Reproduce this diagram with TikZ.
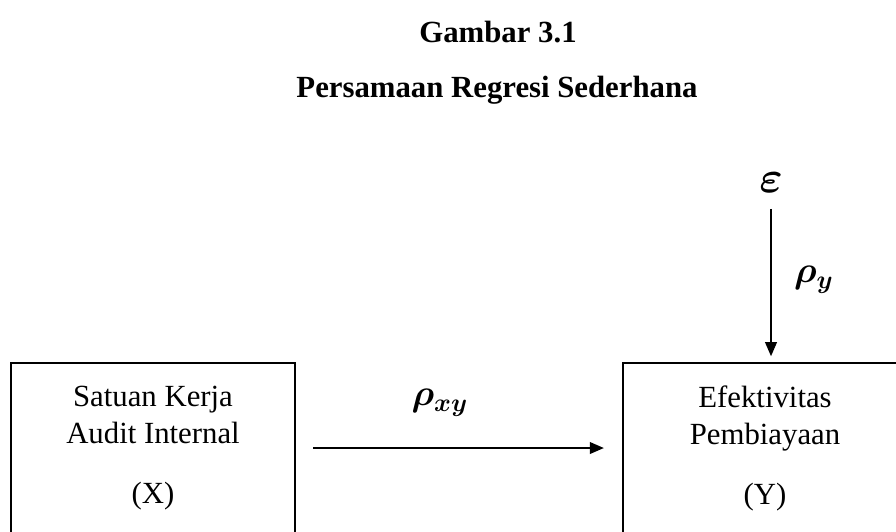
\documentclass[tikz,border=0pt]{standalone}
\usepackage{amsmath,amssymb}
\usepackage{fontspec}
\setmainfont{Liberation Serif}
\usepackage{tikz}
\usetikzlibrary{positioning,arrows.meta}

\begin{document}
\begin{tikzpicture}[
  x=0.39pt, y=-0.39pt,
  every text node part/.style={align=center},
  font=\fontsize{12}{14.4}\selectfont,
  title/.style={font=\fontsize{12}{14.4}\selectfont\bfseries},
  var/.style={draw, line width=0.7pt, minimum width=111pt, minimum height=66.3pt, inner sep=0pt},
  coef/.style={font=\fontsize{14}{16}\selectfont, inner sep=1pt},
  arr/.style={-{Triangle[length=5.5pt,width=4.6pt]}, line width=0.6pt}
]
  \useasboundingbox (0,0) rectangle (896,531);
  \clip (0,0) rectangle (896,531);

  \node[title] (fig) at (498,32) {Gambar 3.1};
  \node[title] (caption) at (497,90) {Persamaan Regresi Sederhana};

  \node[var] (skai) at (153,448) {Satuan Kerja\\Audit Internal\\[9pt](X)};
  \node[var] (efek) at (765,448) {Efektivitas\\Pembiayaan\\[9pt](Y)};
  \node[coef, font=\fontsize{17}{19}\selectfont] (eps) at (771,183) {$\boldsymbol{\varepsilon}$};

  \node[coef] (rxy) at (440,403) {$\boldsymbol{\rho_{xy}}$};
  \node[coef] (ry) at (814,280) {$\boldsymbol{\rho_{y}}$};

  \draw[arr, shorten <=6.6pt, shorten >=7pt] (skai.east) -- (efek.west);
  \draw[arr, shorten <=5pt, shorten >=2.3pt] (eps.south) -- (eps.south |- efek.north);
\end{tikzpicture}
\end{document}
